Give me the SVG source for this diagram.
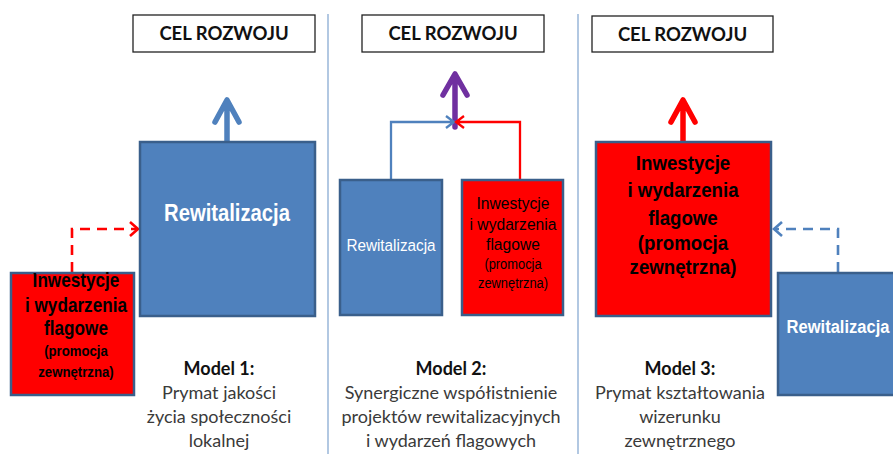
<svg xmlns="http://www.w3.org/2000/svg" width="893" height="454" viewBox="0 0 893 454">
<style>
.goal rect{fill:#fff;stroke:#222;stroke-width:1.3}
.goal text{font-family:Lato,"Open Sans",sans-serif;font-weight:bold;font-size:18.5px;fill:#111;text-anchor:middle}
.blue{fill:#4F81BD;stroke:#3A5F8B;stroke-width:2.5}
.red{fill:#FF0000;stroke:#3A5F8B;stroke-width:2.5}
.nb{font-family:"Liberation Sans",Arial,sans-serif;font-weight:bold;text-anchor:middle}
.nr{font-family:"Liberation Sans",Arial,sans-serif;font-weight:normal;text-anchor:middle}
.w{fill:#fff}
.k{fill:#000}
.cap{font-family:Lato,"Open Sans",sans-serif;font-size:18px;text-anchor:middle;fill:#3a3a3a}
.cap .t{font-weight:bold;fill:#111}
.div{stroke:#7FA3CF;stroke-width:1.2}
.up{fill:none;stroke-width:5.5;stroke-linecap:round;stroke-linejoin:round}
.thin{fill:none;stroke-width:2.3;stroke-linejoin:miter}
.dash{fill:none;stroke-width:2.6;stroke-dasharray:10 7}
</style>

<g id="dividers">
<line class="div" x1="328" y1="14" x2="328" y2="454"/>
<line class="div" x1="578" y1="14" x2="578" y2="454"/>
</g>

<g id="goal1" class="goal"><rect x="133" y="15" width="182" height="37"/><text x="224" y="40">CEL ROZWOJU</text></g>
<g id="goal2" class="goal"><rect x="362" y="15" width="182" height="37"/><text x="453" y="40">CEL ROZWOJU</text></g>
<g id="goal3" class="goal"><rect x="592" y="16" width="181" height="36"/><text x="682.5" y="40.5">CEL ROZWOJU</text></g>

<g id="connectors">
<!-- model 1 -->
<path class="up" stroke="#4F81BD" d="M227 142V101M215 122L227 100L239 122"/>
<path class="dash" stroke="#FF0000" d="M72 272V229H136"/>
<path fill="none" stroke="#FF0000" stroke-width="2.6" d="M130 222L138 229L130 236"/>
<!-- model 2 -->
<path class="up" stroke="#7030A0" d="M455 127V75M443 95L455 74L467 95"/>
<path class="thin" stroke="#4F81BD" d="M391 180V122H453M446 116L454 122L446 128"/>
<path class="thin" stroke="#FF0000" d="M520 180V122H457M464 116L456 122L464 128"/>
<!-- model 3 -->
<path class="up" stroke="#FF0000" d="M683 142V101M671 122L683 100L695 122"/>
<path class="dash" stroke="#4F81BD" d="M838 272V229H775"/>
<path fill="none" stroke="#4F81BD" stroke-width="2.6" d="M782 222L774 229L782 236"/>
</g>

<g id="m1-rewitalizacja">
<rect class="blue" x="140" y="142" width="175" height="174"/>
<g transform="translate(227 0) scale(0.88 1)"><text class="nb w" x="0" y="221" font-size="23">Rewitalizacja</text></g>
</g>

<g id="m1-inwestycje">
<rect class="red" x="11" y="273" width="123" height="122"/>
<g transform="translate(76 0) scale(0.88 1)">
<text x="0" y="287" font-size="19.5" class="nb k">Inwestycje</text>
<text x="0" y="312" font-size="19.5" class="nb k">i wydarzenia</text>
<text x="0" y="335" font-size="19.5" class="nb k">flagowe</text>
<text x="0" y="356" font-size="15" class="nb k">(promocja</text>
<text x="0" y="377" font-size="15" class="nb k">zewnętrzna)</text>
</g>
</g>

<g id="m2-rewitalizacja">
<rect class="blue" x="340" y="180" width="102" height="135"/>
<g transform="translate(391 0) scale(0.9 1)"><text class="nr w" x="0" y="251" font-size="17">Rewitalizacja</text></g>
</g>

<g id="m2-inwestycje">
<rect class="red" x="462" y="180" width="101" height="135"/>
<g transform="translate(513 0) scale(0.92 1)">
<text x="0" y="209" font-size="17" class="nr k">Inwestycje</text>
<text x="0" y="230" font-size="17" class="nr k">i wydarzenia</text>
<text x="0" y="250" font-size="17" class="nr k">flagowe</text>
<text x="0" y="269" font-size="14" class="nr k">(promocja</text>
<text x="0" y="288" font-size="14" class="nr k">zewnętrzna)</text>
</g>
</g>

<g id="m3-inwestycje">
<rect class="red" x="596" y="142" width="175" height="174"/>
<g transform="translate(683 0) scale(0.89 1)">
<text x="0" y="170" font-size="21" class="nb k">Inwestycje</text>
<text x="0" y="197" font-size="21" class="nb k">i wydarzenia</text>
<text x="0" y="225" font-size="21" class="nb k">flagowe</text>
<text x="0" y="250" font-size="21" class="nb k">(promocja</text>
<text x="0" y="274" font-size="21" class="nb k">zewnętrzna)</text>
</g>
</g>

<g id="m3-rewitalizacja">
<rect class="blue" x="778" y="273" width="120" height="122"/>
<g transform="translate(838 0) scale(0.87 1)"><text class="nb w" x="0" y="333" font-size="19">Rewitalizacja</text></g>
</g>

<g id="caption1" class="cap">
<text class="t" x="219" y="375">Model 1:</text>
<text x="219" y="399">Prymat jakości</text>
<text x="219" y="423">życia społeczności</text>
<text x="219" y="447">lokalnej</text>
</g>
<g id="caption2" class="cap">
<text class="t" x="451" y="375">Model 2:</text>
<text x="451" y="399">Synergiczne współistnienie</text>
<text x="451" y="423">projektów rewitalizacyjnych</text>
<text x="451" y="447">i wydarzeń flagowych</text>
</g>
<g id="caption3" class="cap">
<text class="t" x="680" y="375">Model 3:</text>
<text x="680" y="399">Prymat kształtowania</text>
<text x="680" y="423">wizerunku</text>
<text x="680" y="447">zewnętrznego</text>
</g>
</svg>
